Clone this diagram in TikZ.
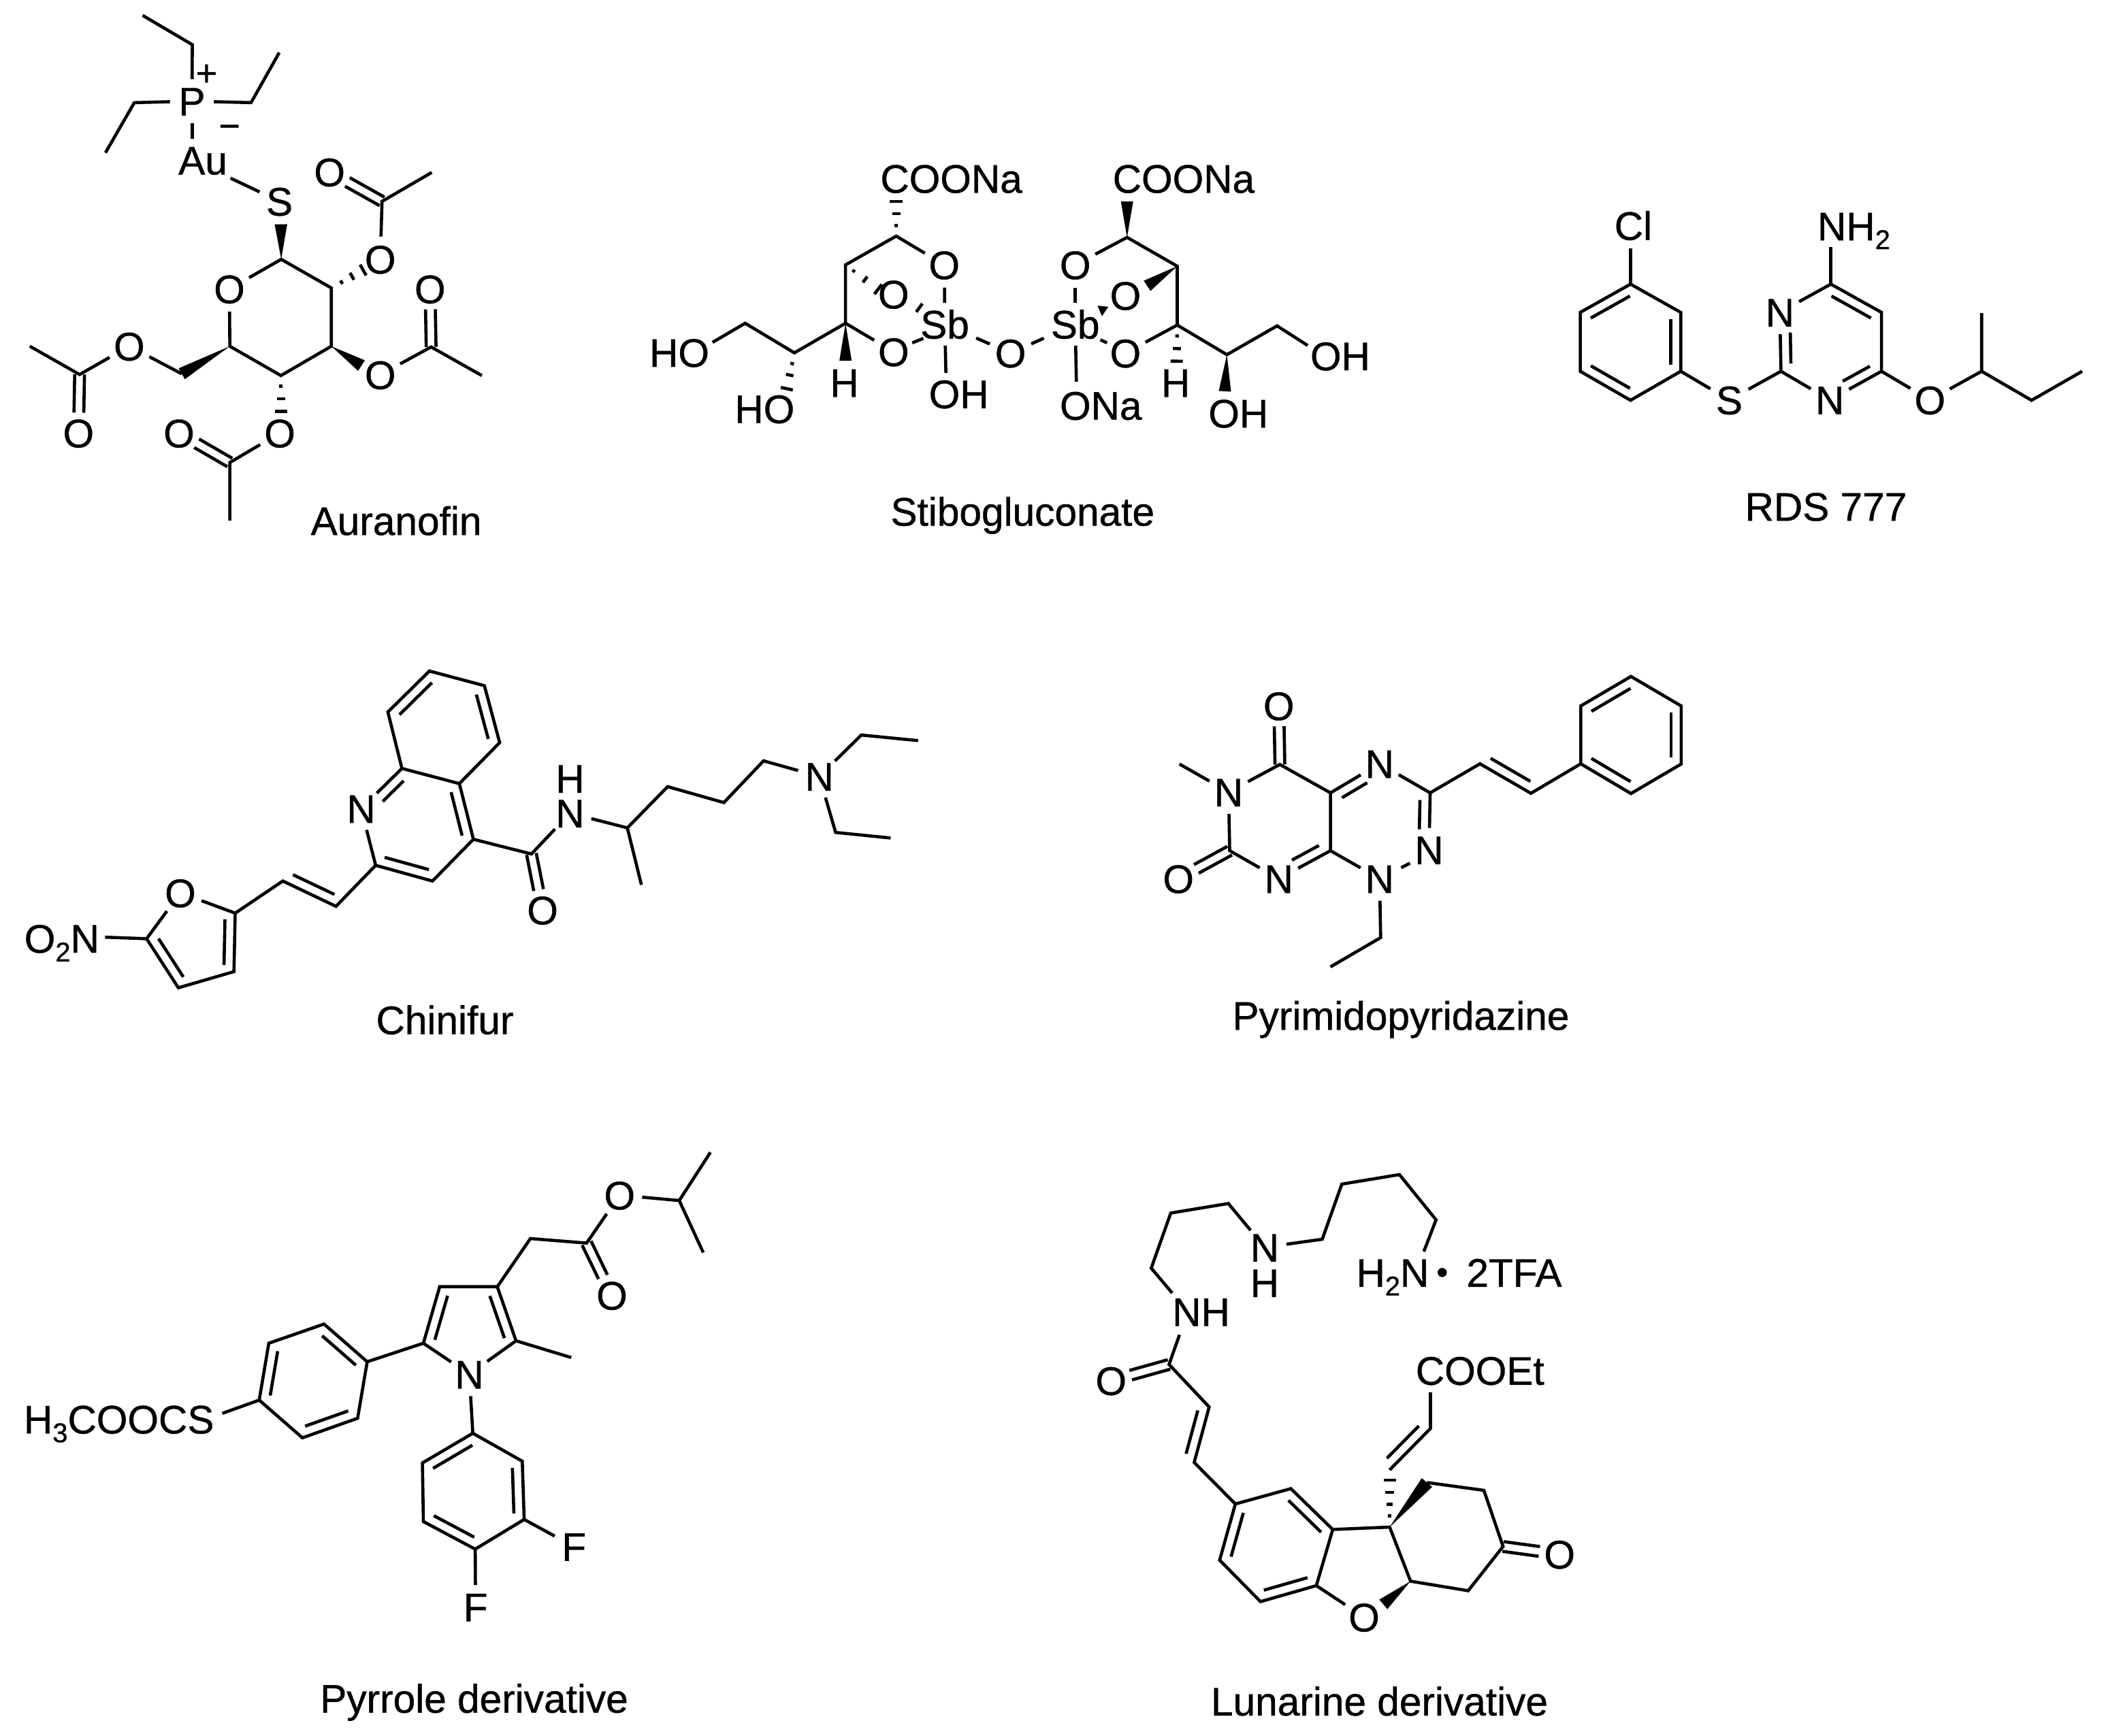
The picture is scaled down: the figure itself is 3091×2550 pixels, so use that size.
\documentclass[tikz,border=0pt]{standalone}
\usepackage{fontspec}
\setmainfont{Liberation Sans}[FakeBold=0.7]
\usetikzlibrary{calc}
\newcommand\chemf{\fontsize{29.3}{31}\selectfont}
\newcommand\lowtxt[1]{\raisebox{-0.22em}{\fontsize{20}{20}\selectfont #1}}
\newcommand\cdotmark{\kern5.5pt\raisebox{2.5pt}{\fontsize{24}{24}\selectfont •}\kern5.5pt}
% filled wedge: tip, wide-end centre, half width
\newcommand\wdg[3]{\fill ($(#2)!#3!90:(#1)$) -- (#1) -- ($(#2)!#3!-90:(#1)$) -- cycle;}
% hashed wedge: tip, far end, half width (number in pt), fractions
\newcommand\hashb[4]{\foreach \t in {#4}{\pgfmathsetmacro\ww{\t*#3}
  \draw ($(#1)!\t!(#2)!\ww pt!90:(#1)$) -- ($(#1)!\t!(#2)!\ww pt!-90:(#1)$);}}
% symmetric double bond from carbon to O atom
\newcommand\dbl[2]{\draw[shorten >=15pt] ($(#1)!3.6pt!90:(#2)$) -- ($(#2)!3.6pt!-90:(#1)$);
  \draw[shorten >=15pt] ($(#1)!3.6pt!-90:(#2)$) -- ($(#2)!3.6pt!90:(#1)$);}
% inner line of a double bond, on the left of a->b
\newcommand\ind[2]{\draw ($(#1)!.11!(#2)!7.4pt!90:(#2)$) -- ($(#2)!.11!(#1)!7.4pt!-90:(#1)$);}
% inner line towards a hetero atom: carbon, atom, angle
\newcommand\indN[3]{\draw[shorten >=15pt] ($(#1)!.13!(#2)!7.4pt!#3:(#2)$) -- ($(#2)!7.4pt!-#3:(#1)$);}
\tikzset{
 atom/.style={circle,inner sep=0pt,minimum size=30pt,text height=21pt,text depth=0pt,font=\chemf,xshift=-.8pt,yshift=.6pt},
 lab/.style={inner sep=0pt,text height=21pt,text depth=0pt,font=\chemf,xshift=-.8pt,yshift=.6pt},
 sbatom/.style={lab,inner sep=4pt},
 chg/.style={inner sep=0pt,font=\fontsize{27}{27}\selectfont}
}
\begin{document}
\begin{tikzpicture}[x=.5pt,y=-.5pt,line width=2.3pt]
\useasboundingbox (0,0) rectangle (3091,2550);
\fill[white] (0,0) rectangle (3091,2550);

%% Auranofin
\begin{scope}[shift={(0pt,0pt)},x=.2436pt,y=-.2628pt]
\node[atom] (aP) at (582,285) {P};
\node[lab] (aAu) at (615,450) {Au};
\node[atom] (aS) at (846,565) {S};
\node[chg] (aplus) at (623,210) {+};
\node[chg] (aminus) at (692,368) {−};
\node[atom] (aOr) at (695,810) {O};
\node[atom] (aO2) at (1150,727) {O};
\node[atom] (aO2k) at (997,483) {O};
\node[atom] (aO3) at (1150,1050) {O};
\node[atom] (aO3k) at (1300,810) {O};
\node[atom] (aO4) at (847,1213) {O};
\node[atom] (aO4k) at (543,1213) {O};
\node[atom] (aO6) at (393,970) {O};
\node[atom] (aO6k) at (240,1213) {O};
\coordinate (ae1) at (430,43); \coordinate (ae2) at (580,125);
\coordinate (ae3) at (757,287); \coordinate (ae4) at (842,147);
\coordinate (ae5) at (405,287); \coordinate (ae6) at (318,427);
\coordinate (apb) at (580,388); \coordinate (apt) at (580,345);
\coordinate (aus) at (695,498);
\coordinate (aC1) at (848,725); \coordinate (aC2) at (999,805);
\coordinate (aC3) at (999,968); \coordinate (aC4) at (847,1050);
\coordinate (aC5) at (693,968); \coordinate (aC6) at (548,1045);
\coordinate (aw1) at (847,627); \coordinate (aw3) at (1090,1022);
\coordinate (ah2) at (1095,755); \coordinate (ah4) at (847,1150);
\coordinate (aA2) at (1152,563); \coordinate (aM2) at (1302,482);
\coordinate (aA3) at (1300,970); \coordinate (aM3) at (1453,1050);
\coordinate (aA4) at (693,1293); \coordinate (aM4) at (693,1455);
\coordinate (aA6) at (240,1047); \coordinate (aM6) at (90,968);
\draw (ae1) -- (ae2) -- (aP) -- (ae3) -- (ae4);
\draw (aP) -- (ae5) -- (ae6);
\draw (apt) -- (apb);
\draw (aus) -- (aS);
\draw (aOr) -- (aC1) -- (aC2) -- (aC3) -- (aC4) -- (aC5) -- (aOr);
\wdg{aC1}{aw1}{4.6pt}
\hashb{aC2}{ah2}{4.5}{.32,.65,1}
\wdg{aC3}{aw3}{4.6pt}
\hashb{aC4}{ah4}{4.5}{.3,.65,1}
\wdg{aC5}{aC6}{4.6pt}
\draw (aC6) -- (aO6) -- (aA6) -- (aM6);
\dbl{aA6}{aO6k}
\draw (aO2) -- (aA2) -- (aM2);
\dbl{aA2}{aO2k}
\draw (aO3) -- (aA3) -- (aM3);
\dbl{aA3}{aO3k}
\draw (aO4) -- (aA4) -- (aM4);
\dbl{aA4}{aO4k}
\node[lab] (aname) at (1198,1458) {Auranofin};
\end{scope}

%% Stibogluconate
\begin{scope}[shift={(460pt,-100pt)},x=.3686pt,y=-.1923pt]
\node[lab] (bCOO1) at (650,165) {COONa};
\node[lab] (bCOO2) at (1113,165) {COONa};
\node[sbatom] (bSb1) at (637,722) {Sb};
\node[sbatom] (bSb2) at (897,722) {Sb};
\node[atom] (bO1) at (636,495) {O};
\node[atom] (bO2) at (535,607) {O};
\node[atom] (bO3) at (535,827) {O};
\node[atom] (bOb) at (768,832) {O};
\node[atom] (bO4) at (897,495) {O};
\node[atom] (bO5) at (997,612) {O};
\node[atom] (bO6) at (997,832) {O};
\node[lab] (bOH1) at (665,988) {OH};
\node[lab] (bONa) at (948,1032) {ONa};
\node[lab] (bH1) at (437,945) {H};
\node[lab] (bH2) at (1097,945) {H};
\node[lab] (bHO1) at (108,830) {HO};
\node[lab] (bHO2) at (278,1045) {HO};
\node[lab] (bOH2) at (1222,1062) {OH};
\node[lab] (bOH3) at (1425,843) {OH};
\coordinate (bC1) at (538,382); \coordinate (bC2) at (437,492);
\coordinate (bC3) at (437,715); \coordinate (bC4) at (335,828);
\coordinate (bC5) at (237,715); \coordinate (bC6) at (998,387);
\coordinate (bC7) at (1098,497); \coordinate (bC8) at (1098,722);
\coordinate (bC9) at (1197,835); \coordinate (bC10) at (1297,725);
\coordinate (bh1) at (538,250); \coordinate (bw1) at (998,250);
\coordinate (bh2) at (502,585); \coordinate (bw2) at (1038,572);
\coordinate (bw3) at (437,858); \coordinate (bh3) at (1097,860);
\coordinate (bh4) at (320,965); \coordinate (bw4) at (1193,975);
\coordinate (bHOe1) at (172,788); \coordinate (bOHe3) at (1358,800);
\coordinate (bsb1) at (637,905); \coordinate (bsb2) at (897,938);
\coordinate (bt1) at (590,640); \coordinate (bt2) at (578,672);
\coordinate (bt3) at (570,790); \coordinate (bt4) at (592,773);
\coordinate (bt5) at (945,778); \coordinate (bt6) at (958,790);
\coordinate (bt7) at (948,688); \coordinate (bt8) at (950,650);
\hashb{bC1}{bh1}{4.6}{.3,.65,1}
\draw (bO1) -- (bC1) -- (bC2) -- (bC3) -- (bO3);
\draw (bO1) -- (bSb1);
\hashb{bC2}{bh2}{4.5}{.25,.6,1}
\draw (bt1) -- (bt2);
\draw (bt3) -- (bt4);
\draw (bSb1) -- (bsb1);
\draw (bSb1) -- (bOb) -- (bSb2);
\draw (bO4) -- (bSb2);
\draw (bSb2) -- (bsb2);
\draw (bO4) -- (bC6) -- (bC7) -- (bC8) -- (bO6);
\wdg{bC6}{bw1}{4.5pt}
\wdg{bC7}{bw2}{4.5pt}
\wdg{bt7}{bt8}{4pt}
\draw (bt5) -- (bt6);
\hashb{bC8}{bh3}{4.5}{.3,.65,1}
\wdg{bC3}{bw3}{4.5pt}
\draw (bC3) -- (bC4) -- (bC5) -- (bHOe1);
\hashb{bC4}{bh4}{4.5}{.3,.62,1}
\draw (bC8) -- (bC9) -- (bC10) -- (bOHe3);
\wdg{bC9}{bw4}{4.5pt}
\node[lab] (bname) at (792,1437) {Stibogluconate};
\end{scope}

%% RDS 777
\begin{scope}[shift={(1130pt,-130pt)},x=.2564pt,y=-.1731pt]
\node[lab] (cCl) at (275,210) {Cl};
\node[lab] (cNH) at (907,212) {NH\lowtxt{2}};
\node[atom] (cS) at (550,950) {S};
\node[atom] (cN1) at (695,578) {N};
\node[atom] (cN3) at (838,950) {N};
\node[atom] (cO) at (1125,950) {O};
\coordinate (cp1) at (264,455); \coordinate (cp2) at (408,575);
\coordinate (cp3) at (408,825); \coordinate (cp4) at (264,948);
\coordinate (cp5) at (120,825); \coordinate (cp6) at (120,575);
\coordinate (cC2) at (695,825); \coordinate (cC6) at (838,455);
\coordinate (cC5) at (983,575); \coordinate (cC4) at (983,825);
\coordinate (cCle) at (264,302); \coordinate (cNe) at (838,297);
\coordinate (cq1) at (1270,825); \coordinate (cq2) at (1270,578);
\coordinate (cq3) at (1413,948); \coordinate (cq4) at (1558,825);
\draw (cCle) -- (cp1);
\draw (cp1) -- (cp2) -- (cp3) -- (cp4) -- (cp5) -- (cp6) -- cycle;
\ind{cp1}{cp6} \ind{cp5}{cp4} \ind{cp3}{cp2}
\draw (cp3) -- (cS) -- (cC2);
\draw (cN1) -- (cC2) -- (cN3) -- (cC4) -- (cC5) -- (cC6) -- (cN1);
\draw (cNe) -- (cC6);
\indN{cC2}{cN1}{-90}
\ind{cC5}{cC6}
\indN{cC4}{cN3}{-90}
\draw (cC4) -- (cO) -- (cq1) -- (cq2);
\draw (cq1) -- (cq3) -- (cq4);
\node[lab] (cname) at (827,1402) {RDS 777};
\end{scope}

%% Chinifur
\begin{scope}[shift={(0pt,-480pt)},x=.4487pt,y=-.1859pt]
\node[atom] (dN) at (593,617) {N};
\node[atom] (dNa) at (935,635) {N};
\node[lab] (dH) at (935,498) {H};
\node[atom] (dNe) at (1343,490) {N};
\node[atom] (dOk) at (890,1018) {O};
\node[atom] (dOf) at (297,950) {O};
\node[lab] (dNO) at (103,1130) {O\lowtxt{2}N};
\coordinate (db1) at (703,70); \coordinate (db2) at (793,128);
\coordinate (db3) at (818,353); \coordinate (db4) at (752,515);
\coordinate (db5) at (658,455); \coordinate (db6) at (635,232);
\coordinate (dd1) at (775,735); \coordinate (dd2) at (708,900);
\coordinate (dd3) at (615,838);
\coordinate (dk) at (870,793);
\coordinate (dm1) at (1027,690); \coordinate (dm2) at (1050,915);
\coordinate (dm3) at (1093,527); \coordinate (dm4) at (1185,590);
\coordinate (dm5) at (1250,425);
\coordinate (dn1) at (1410,323); \coordinate (dn2) at (1503,345);
\coordinate (dn3) at (1368,708); \coordinate (dn4) at (1458,730);
\coordinate (dv1) at (550,1000); \coordinate (dv2) at (463,900);
\coordinate (df1) at (385,1027); \coordinate (df2) at (383,1258);
\coordinate (df3) at (292,1322); \coordinate (df4) at (240,1128);
\coordinate (dNOe) at (172,1122);
\draw (db1) -- (db2) -- (db3) -- (db4) -- (db5) -- (db6) -- cycle;
\ind{db1}{db6} \ind{db3}{db2}
\draw (db5) -- (dN) -- (dd3) -- (dd2) -- (dd1) -- (db4);
\indN{db5}{dN}{90}
\ind{dd1}{db4} \ind{dd3}{dd2}
\draw (dd1) -- (dk) -- (dNa) -- (dm1) -- (dm2);
\dbl{dk}{dOk}
\draw (dm1) -- (dm3) -- (dm4) -- (dm5) -- (dNe) -- (dn1) -- (dn2);
\draw (dNe) -- (dn3) -- (dn4);
\draw (dd3) -- (dv1) -- (dv2) -- (df1);
\ind{dv2}{dv1}
\draw (dOf) -- (df1) -- (df2) -- (df3) -- (df4) -- (dOf);
\ind{df2}{df1} \ind{df4}{df3}
\draw (dNOe) -- (df4);
\node[lab] (dname) at (730,1452) {Chinifur};
\end{scope}

%% Pyrimidopyridazine
\begin{scope}[shift={(840pt,-480pt)},x=.2692pt,y=-.1667pt]
\node[atom] (eOa) at (372,235) {O};
\node[atom] (eNa) at (235,615) {N};
\node[atom] (eOb) at (98,997) {O};
\node[atom] (eNb) at (372,997) {N};
\node[atom] (eNc) at (647,490) {N};
\node[atom] (eNd) at (782,870) {N};
\node[atom] (eNe) at (647,997) {N};
\coordinate (eq1) at (372,490); \coordinate (eq2) at (235,870);
\coordinate (eq3) at (510,870); \coordinate (eq4) at (510,615);
\coordinate (eq5) at (782,615); \coordinate (eMe) at (98,488);
\coordinate (ew1) at (918,487); \coordinate (ew2) at (1057,617);
\coordinate (er1) at (1193,487); \coordinate (er2) at (1193,232);
\coordinate (er3) at (1330,102); \coordinate (er4) at (1467,232);
\coordinate (er5) at (1467,488); \coordinate (er6) at (1330,618);
\coordinate (eE1) at (647,1253); \coordinate (eE2) at (510,1382);
\coordinate (et1) at (727,925); \coordinate (et2) at (703,945);
\dbl{eq1}{eOa}
\dbl{eq2}{eOb}
\draw (eMe) -- (eNa) -- (eq1) -- (eq4) -- (eq3) -- (eNb) -- (eq2) -- (eNa);
\indN{eq3}{eNb}{-90}
\draw (eq4) -- (eNc) -- (eq5) -- (eNd);
\indN{eq4}{eNc}{-90}
\indN{eq5}{eNd}{-90}
\draw (et1) -- (et2);
\draw (eq3) -- (eNe) -- (eE1) -- (eE2);
\draw (eq5) -- (ew1) -- (ew2) -- (er1);
\ind{ew1}{ew2}
\draw (er1) -- (er2) -- (er3) -- (er4) -- (er5) -- (er6) -- cycle;
\ind{er3}{er2} \ind{er5}{er4} \ind{er1}{er6}
\node[lab] (ename) at (705,1600) {Pyrimidopyridazine};
\end{scope}

%% Pyrrole derivative
\begin{scope}[shift={(0pt,-830pt)},x=.3526pt,y=-.2564pt]
\node[lab] (fL) at (250,832) {H\lowtxt{3}COOCS};
\node[atom] (fN) at (980,703) {N};
\node[atom] (fO1) at (1293,190) {O};
\node[atom] (fO2) at (1277,477) {O};
\node[atom] (fF1) at (1198,1197) {F};
\node[atom] (fF2) at (993,1370) {F};
\coordinate (fa1) at (765,665); \coordinate (fa2) at (675,557);
\coordinate (fa3) at (560,612); \coordinate (fa4) at (540,775);
\coordinate (fa5) at (630,883); \coordinate (fa6) at (745,827);
\coordinate (fLe) at (463,813);
\coordinate (fp1) at (882,612); \coordinate (fp2) at (916,450);
\coordinate (fp3) at (1036,450); \coordinate (fp4) at (1075,605);
\coordinate (fMe) at (1190,653);
\coordinate (fg1) at (985,870); \coordinate (fg2) at (1088,950);
\coordinate (fg3) at (1092,1117); \coordinate (fg4) at (990,1202);
\coordinate (fg5) at (882,1123); \coordinate (fg6) at (880,955);
\coordinate (fc1) at (1105,312); \coordinate (fc2) at (1222,325);
\coordinate (fi1) at (1415,203); \coordinate (fi2) at (1480,65);
\coordinate (fi3) at (1465,352);
\draw (fa1) -- (fa2) -- (fa3) -- (fa4) -- (fa5) -- (fa6) -- cycle;
\ind{fa1}{fa2} \ind{fa3}{fa4} \ind{fa5}{fa6}
\draw (fLe) -- (fa4);
\draw (fa1) -- (fp1) -- (fp2) -- (fp3) -- (fp4) -- (fN) -- (fp1);
\ind{fp4}{fp3} \ind{fp2}{fp1}
\draw (fp4) -- (fMe);
\draw (fN) -- (fg1);
\draw (fg1) -- (fg2) -- (fg3) -- (fg4) -- (fg5) -- (fg6) -- cycle;
\ind{fg1}{fg6} \ind{fg5}{fg4} \ind{fg3}{fg2}
\draw (fg3) -- (fF1);
\draw (fg4) -- (fF2);
\draw (fp3) -- (fc1) -- (fc2) -- (fO1) -- (fi1) -- (fi2);
\draw (fi1) -- (fi3);
\dbl{fc2}{fO2}
\node[lab] (fname) at (990,1632) {Pyrrole derivative};
\end{scope}

%% Lunarine derivative
\begin{scope}[shift={(790pt,-845pt)},x=.2564pt,y=-.25pt]
\node[lab] (gNH1) at (363,477) {NH};
\node[atom] (gN2) at (545,288) {N};
\node[lab] (gH2) at (545,392) {H};
\node[lab] (gTFA) at (1102,362) {H\lowtxt{2}N\cdotmark{} 2TFA};
\node[atom] (gOa) at (105,680) {O};
\node[lab] (gCOO) at (1162,650) {COOEt};
\node[atom] (gOr) at (830,1375) {O};
\node[atom] (gOk) at (1390,1190) {O};
\coordinate (gc1) at (277,420); \coordinate (gc2) at (217,347);
\coordinate (gc3) at (273,185); \coordinate (gc4) at (438,157);
\coordinate (gd1) at (707,262); \coordinate (gd2) at (763,100);
\coordinate (gd3) at (928,72); \coordinate (gd4) at (1033,205);
\coordinate (gd5) at (998,298);
\coordinate (gn1) at (298,543); \coordinate (gk0) at (268,630);
\coordinate (gk1) at (383,755); \coordinate (gk2) at (340,918);
\coordinate (gh1) at (458,1040); \coordinate (gh2) at (617,995);
\coordinate (gh3) at (737,1115); \coordinate (gh4) at (690,1280);
\coordinate (gh5) at (530,1327); \coordinate (gh6) at (413,1205);
\coordinate (gs) at (900,1108); \coordinate (gt) at (960,1267);
\coordinate (gu1) at (1125,1295); \coordinate (gu2) at (1225,1165);
\coordinate (gu3) at (1170,1000); \coordinate (gu4) at (1007,977);
\coordinate (gw) at (882,1335); \coordinate (gHe) at (900,970);
\coordinate (gm1) at (1017,818); \coordinate (gm2) at (900,940);
\coordinate (gCe) at (1017,712);
\draw (gc1) -- (gc2) -- (gc3) -- (gc4) -- (gN2) -- (gd1) -- (gd2) -- (gd3) -- (gd4) -- (gd5);
\draw (gn1) -- (gk0) -- (gk1) -- (gk2) -- (gh1);
\dbl{gk0}{gOa}
\ind{gk2}{gk1}
\draw (gh1) -- (gh2) -- (gh3) -- (gh4) -- (gh5) -- (gh6) -- cycle;
\ind{gh1}{gh6} \ind{gh5}{gh4} \ind{gh3}{gh2}
\draw (gh4) -- (gOr);
\draw (gh3) -- (gs) -- (gt) -- (gu1) -- (gu2) -- (gu3) -- (gu4);
\wdg{gs}{gu4}{5pt}
\wdg{gt}{gw}{4.6pt}
\hashb{gs}{gHe}{4.5}{.24,.49,.74,1}
\dbl{gu2}{gOk}
\draw (gm2) -- (gm1) -- (gCe);
\ind{gm2}{gm1}
\node[lab] (gname) at (874,1622) {Lunarine derivative};
\end{scope}
\end{tikzpicture}
\end{document}
